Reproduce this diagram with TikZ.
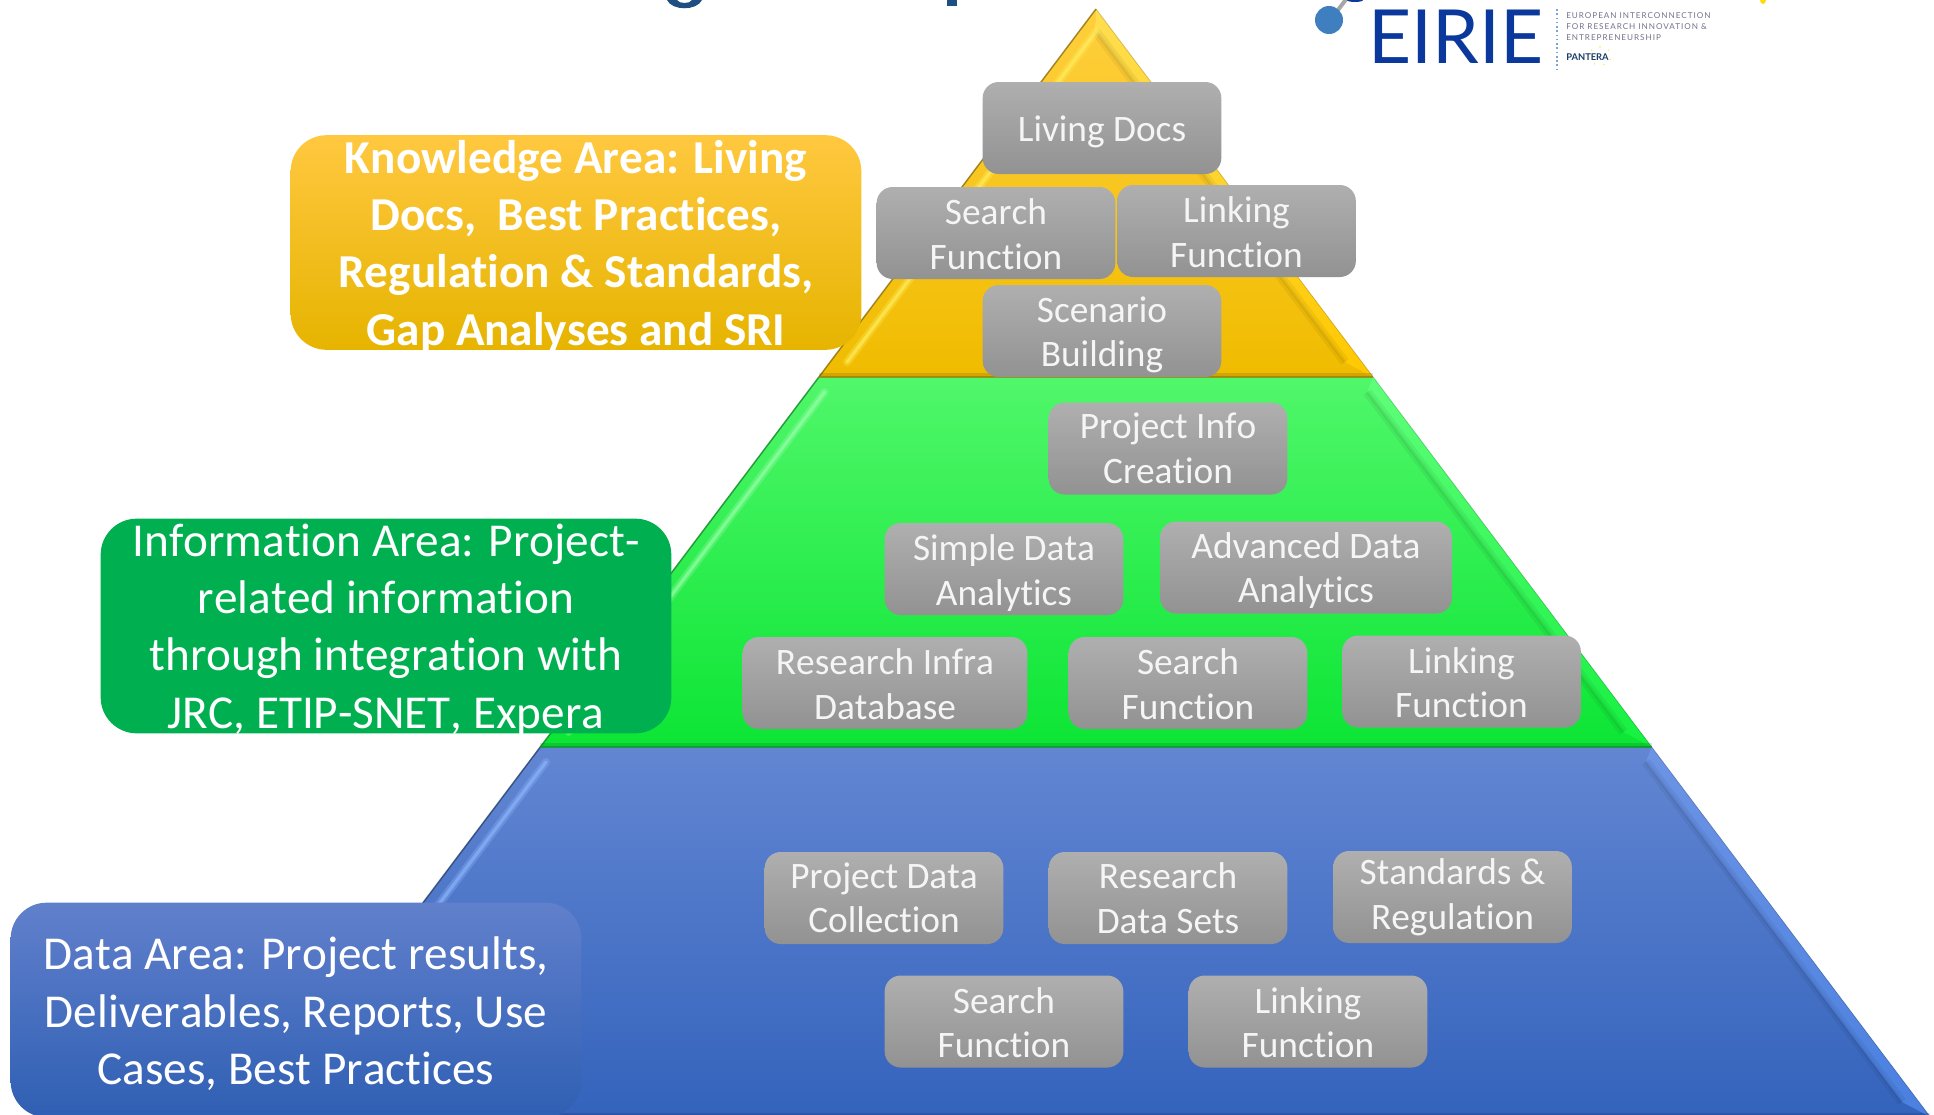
\documentclass[tikz,border=0pt]{standalone}
\usepackage{fontspec}
\setmainfont{Carlito}[Ligatures=NoCommon,Kerning=Off]
\newfontfamily\logofont{Lato}
\newfontfamily\logosmall[LetterSpace=12]{Lato}
\definecolor{titleblue}{HTML}{1F4E82}
\definecolor{logoblue}{HTML}{0B389C}
\definecolor{logodot}{HTML}{3F7FBF}
\definecolor{graytop}{HTML}{AFAFAF}
\definecolor{graybot}{HTML}{929292}
\definecolor{bA}{HTML}{6286D2}\definecolor{bB}{HTML}{4473D0}\definecolor{bC}{HTML}{3463BC}
\definecolor{bD}{HTML}{6D94E4}\definecolor{bE}{HTML}{4A80E0}\definecolor{bF}{HTML}{8FB8FF}
\definecolor{gA}{HTML}{50F76A}\definecolor{gB}{HTML}{1FF947}\definecolor{gC}{HTML}{0CE535}
\definecolor{gD}{HTML}{60FF7A}\definecolor{gE}{HTML}{16F040}\definecolor{gF}{HTML}{9CFFAC}
\definecolor{yA}{HTML}{FFCF3D}\definecolor{yB}{HTML}{FFCC10}\definecolor{yC}{HTML}{F0BC00}
\definecolor{yD}{HTML}{FFDE50}\definecolor{yE}{HTML}{FFC800}\definecolor{yF}{HTML}{FFF060}
\definecolor{kA}{HTML}{FFC840}\definecolor{kB}{HTML}{FFC000}\definecolor{kC}{HTML}{E6B400}
\definecolor{iA}{HTML}{00B050}
\definecolor{dA}{HTML}{6180CC}\definecolor{dB}{HTML}{4472C9}\definecolor{dC}{HTML}{2F5FB3}
\newcommand{\boxfont}{\fontsize{28pt}{33.4pt}\selectfont}
\newcommand{\areafont}{\fontsize{35.4pt}{43pt}\selectfont}
\newcommand{\layer}[8]{% y1,y2,top,mid,bottom,striptop,stripbottom,highlight
  \pgfmathsetmacro{\tipy}{#1==9?31:#1+15}
  \pgfmathsetmacro{\boty}{#2-15}
  \pgfmathsetmacro{\Lo}{1096-(#1-9)*.753}
  \pgfmathsetmacro{\Ro}{1096+(#1-9)*.753}
  \pgfmathsetmacro{\Lb}{1096-(#2-9)*.753}
  \pgfmathsetmacro{\Rb}{1096+(#2-9)*.753}
  \pgfmathsetmacro{\Lit}{1096-(\tipy-9)*.753+17}
  \pgfmathsetmacro{\Rit}{1096+(\tipy-9)*.753-17}
  \pgfmathsetmacro{\Lib}{1096-(\boty-9)*.753+17}
  \pgfmathsetmacro{\Rib}{1096+(\boty-9)*.753-17}
  \shade[top color=#3,middle color=#4,bottom color=#5] (\Lo,#1) -- (\Ro,#1) -- (\Rb,#2) -- (\Lb,#2) -- cycle;
  \shade[top color=#6,bottom color=#7] (\Ro,#1) -- (\Rb,#2) -- (\Rib,\boty) -- (\Rit,\tipy) -- cycle;
  \draw[black,opacity=.05,line width=7pt] (\Rit,\tipy) -- (\Rib,\boty);
  \draw[black,opacity=.06,line width=2.5pt] (\Rit,\tipy) -- (\Rib,\boty);
  \draw[#8,opacity=.3,line width=6pt,line cap=round] (\Lit,\tipy) -- (\Lib,\boty);
  \draw[#8,opacity=.6,line width=2.5pt,line cap=round] (\Lit,\tipy) -- (\Lib,\boty);
  \draw[black!45!#5,line width=1.1pt,opacity=.75] (\Lo,#1) -- (\Lb,#2);
  \draw[black,line width=.7pt,opacity=.15] (\Ro,#1) -- (\Rb,#2);
  \draw[black,line width=3pt,opacity=.12] (\Lb,#2-2) -- (\Rb,#2-2);
  \draw[black!35!#5,line width=1.2pt,opacity=.7] (\Lb,#2) -- (\Rb,#2);
}
\newcommand{\gbox}[6][]{% options, name, x, y, text shift, text
  \node[graybox,#1] (#2) at (#3,#4) {};
  \node[boxtext] (#2-text) at ([yshift=-#5*0.75pt]#2.center) {#6};
}
\newcommand{\abox}[6][]{% options, name, x, y, text, font options
  \node[areabox,#1] (#2) at (#3,#4) {};
  \node[areatext,#6] (#2-text) at ([yshift=-2.8pt]#2.center) {#5};
}
\tikzset{
  graybox/.style={rounded corners=12pt,top color=graytop,bottom color=graybot,
    minimum height=69pt,minimum width=179pt,inner sep=0pt},
  boxtext/.style={text=white!96!black,inner sep=0pt,align=center,font=\boxfont},
  areabox/.style={rounded corners=27pt,minimum width=428pt,minimum height=161pt,inner sep=0pt},
  areatext/.style={text=white,inner sep=0pt,align=center,font=\areafont},
}
\begin{document}
\begin{tikzpicture}[x=0.75pt,y=-0.75pt]
\useasboundingbox (0,0) rectangle (1934,1114);
\clip (0,0) rectangle (1934,1114);
\fill[white] (0,0) rectangle (1934,1114);
% title fragments
\fill[titleblue] (667,0) .. controls (672,11) and (697,11) .. (702,0) -- (692,0) .. controls (690,4) and (679,4) .. (677,0) -- cycle;
\fill[titleblue] (947,0) rectangle (957,6);
% logo
\draw[gray!70,line width=3pt] (1338,10) -- (1347,-2);
\fill[logoblue] (1355,0) ellipse (8 and 2);
\fill[logodot] (1329,20) circle (14);
\node[anchor=base west,inner sep=0pt,text=logoblue,font=\logofont\fontsize{56pt}{56pt}\selectfont] (logo) at (1368,63) {EIRIE};
\draw[logodot!70,line width=1.2pt,dotted] (1557,9) -- (1557,69);
\node[anchor=base west,inner sep=0pt,text=gray!90!blue,font=\logosmall\fontsize{6.1pt}{8.25pt}\selectfont,align=left] (logotext) at (1566,40.5) {EUROPEAN INTERCONNECTION\\FOR RESEARCH INNOVATION \&\\ENTREPRENEURSHIP};
\node[anchor=base west,inner sep=0pt,text=titleblue!80!black,font=\logofont\bfseries\fontsize{7pt}{8pt}\selectfont] (pantera) at (1566,60) {PANTERA};
\foreach \a in {20,70,...,340} \fill[yellow!85!orange,opacity=.7] ({1600+11*cos(\a)},{56+9*sin(\a)}) circle (.8);
\fill[yellow!80!orange] (1763,0) ellipse (3 and 4);
% pyramid
\layer{747}{1117}{bA}{bB}{bC}{bD}{bE}{bF}
\layer{377}{747}{gA}{gB}{gC}{gD}{gE}{gF}
\layer{9}{377}{yA}{yB}{yC}{yD}{yE}{yF}
% boxes
\gbox{living}{1102}{128}{4}{Living Docs}
\gbox{search3}{996}{233}{1}{Search\\Function}
\gbox{link3}{1236.5}{231}{1}{Linking\\Function}
\gbox{scenario}{1102}{331}{4}{Scenario\\Building}
\gbox{projinfo}{1168}{448.5}{0}{Project Info\\Creation}
\gbox{simple}{1004}{569}{4}{Simple Data\\Analytics}
\gbox[minimum width=219pt]{advanced}{1306}{567.5}{3}{Advanced Data\\Analytics}
\gbox[minimum width=213.5pt]{infra}{885}{683}{1}{Research Infra\\Database}
\gbox{search2}{1188}{683}{1}{Search\\Function}
\gbox{link2}{1461.5}{681.5}{1}{Linking\\Function}
\gbox{projdata}{884}{898}{0}{Project Data\\Collection}
\gbox{resdata}{1168}{898}{0}{Research\\Data Sets}
\gbox{standards}{1452.5}{897}{0}{Standards \&\\Regulation}
\gbox{search1}{1004}{1021.5}{1}{Search\\Function}
\gbox{link1}{1308}{1021.5}{1}{Linking\\Function}
% area callouts
\abox[top color=kA,middle color=kB,bottom color=kC]{knowledge}{576}{242.5}{Knowledge Area: Living\\Docs,~ Best Practices,\\Regulation \& Standards,\\Gap Analyses and SRI}{font=\areafont\bfseries}
\abox[fill=iA]{information}{386}{626}{Information Area: Project-\\related information\\through integration with\\JRC, ETIP-SNET, Expera}{}
\abox[top color=dA,middle color=dB,bottom color=dC]{data}{296}{1010}{Data Area: Project results,\\Deliverables, Reports, Use\\Cases, Best Practices}{}
\end{tikzpicture}
\end{document}
